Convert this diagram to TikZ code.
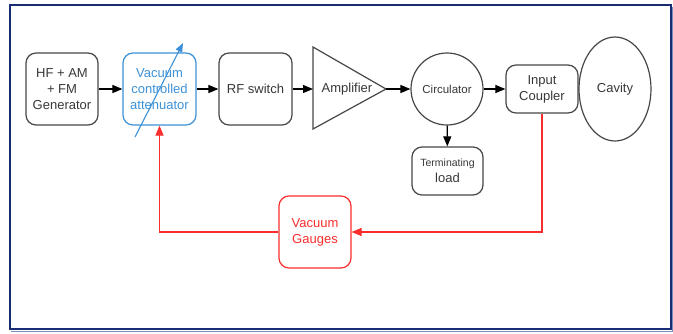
\documentclass[tikz,border=0pt]{standalone}
\usepackage{fontspec}
\setmainfont{Liberation Sans}
\usetikzlibrary{arrows.meta,shapes.geometric}
\definecolor{boxgray}{RGB}{70,70,70}
\definecolor{txtgray}{RGB}{55,55,55}
\definecolor{attblue}{RGB}{60,145,215}
\definecolor{gred}{RGB}{250,45,45}
\definecolor{navy}{RGB}{25,45,115}
\definecolor{navylight}{RGB}{120,140,190}
\tikzset{
  blk/.style={draw=boxgray, line width=1.2pt, rounded corners=10pt, align=center,
    inner sep=0pt, text=txtgray, font=\fontsize{13}{16}\selectfont},
  tip/.style={-{Triangle[length=10pt,width=8pt]}},
  arr/.style={tip, line width=1.1pt, draw=black},
  redarr/.style={tip, line width=1.1pt, draw=gred},
}
\begin{document}
\begin{tikzpicture}[x=1pt,y=-1pt]
\useasboundingbox (0,0) rectangle (673,333);
% frame
\draw[navylight, line width=1.2pt] (11,331.5) -- (672.3,331.5) -- (672.3,7);
\draw[navy, line width=2pt] (10,5) rectangle (670.7,329.3);
% blocks
\node[blk, minimum width=72pt, minimum height=72pt] (gen) at (62,89) {HF + AM\\+ FM\\Generator};
\node[blk, draw=attblue, text=attblue, minimum width=73pt, minimum height=72pt] (att) at (159.5,89) {Vacuum\\controlled\\attenuator};
\node[blk, minimum width=73pt, minimum height=72pt] (rf) at (255.5,89) {RF switch};
% amplifier triangle
\coordinate (ampin) at (313,89);
\coordinate (ampout) at (386,89);
\draw[boxgray, line width=1.2pt, line join=miter] (313,47) -- (ampout) -- (313,129) -- cycle;
\node[text=txtgray, font=\fontsize{13}{16}\selectfont] (amp) at (347,89) {Amplifier};
\node[draw=boxgray, line width=1.2pt, circle, minimum size=72pt, inner sep=0pt, text=txtgray,
  font=\fontsize{11.5}{14}\selectfont] (circ) at (447,89) {Circulator};
\node[blk, minimum width=72pt, minimum height=48pt] (coup) at (542,89) {Input\\Coupler};
\node[draw=boxgray, line width=1.2pt, ellipse, minimum width=72pt, minimum height=104pt, inner sep=0pt,
  text=txtgray, font=\fontsize{13}{16}\selectfont] (cav) at (615,89) {Cavity};
\node[blk, minimum width=71pt, minimum height=48pt] (load) at (447.5,171)
  {{\fontsize{10.5}{13}\selectfont Terminating}\\load};
\node[blk, draw=gred, text=gred, minimum width=72pt, minimum height=72pt] (gauge) at (315,232) {Vacuum\\Gauges};
% black connectors
\draw[arr] (gen) -- (att);
\draw[arr] (att) -- (rf);
\draw[arr] (rf) -- (ampin);
\draw[arr] (ampout) -- (circ);
\draw[arr] (circ) -- (coup);
\draw[arr] (circ) -- (load);
% red feedback
\draw[redarr] (coup.south) |- (gauge.east);
\draw[redarr] (gauge.west) -| (att.south);
% variable attenuator arrow
\coordinate (vs) at (135,137);
\coordinate (ve) at (183,43);
\draw[attblue, line width=1.1pt, -{Triangle[length=9pt,width=7pt]}] (vs) -- (ve);
\end{tikzpicture}
\end{document}
